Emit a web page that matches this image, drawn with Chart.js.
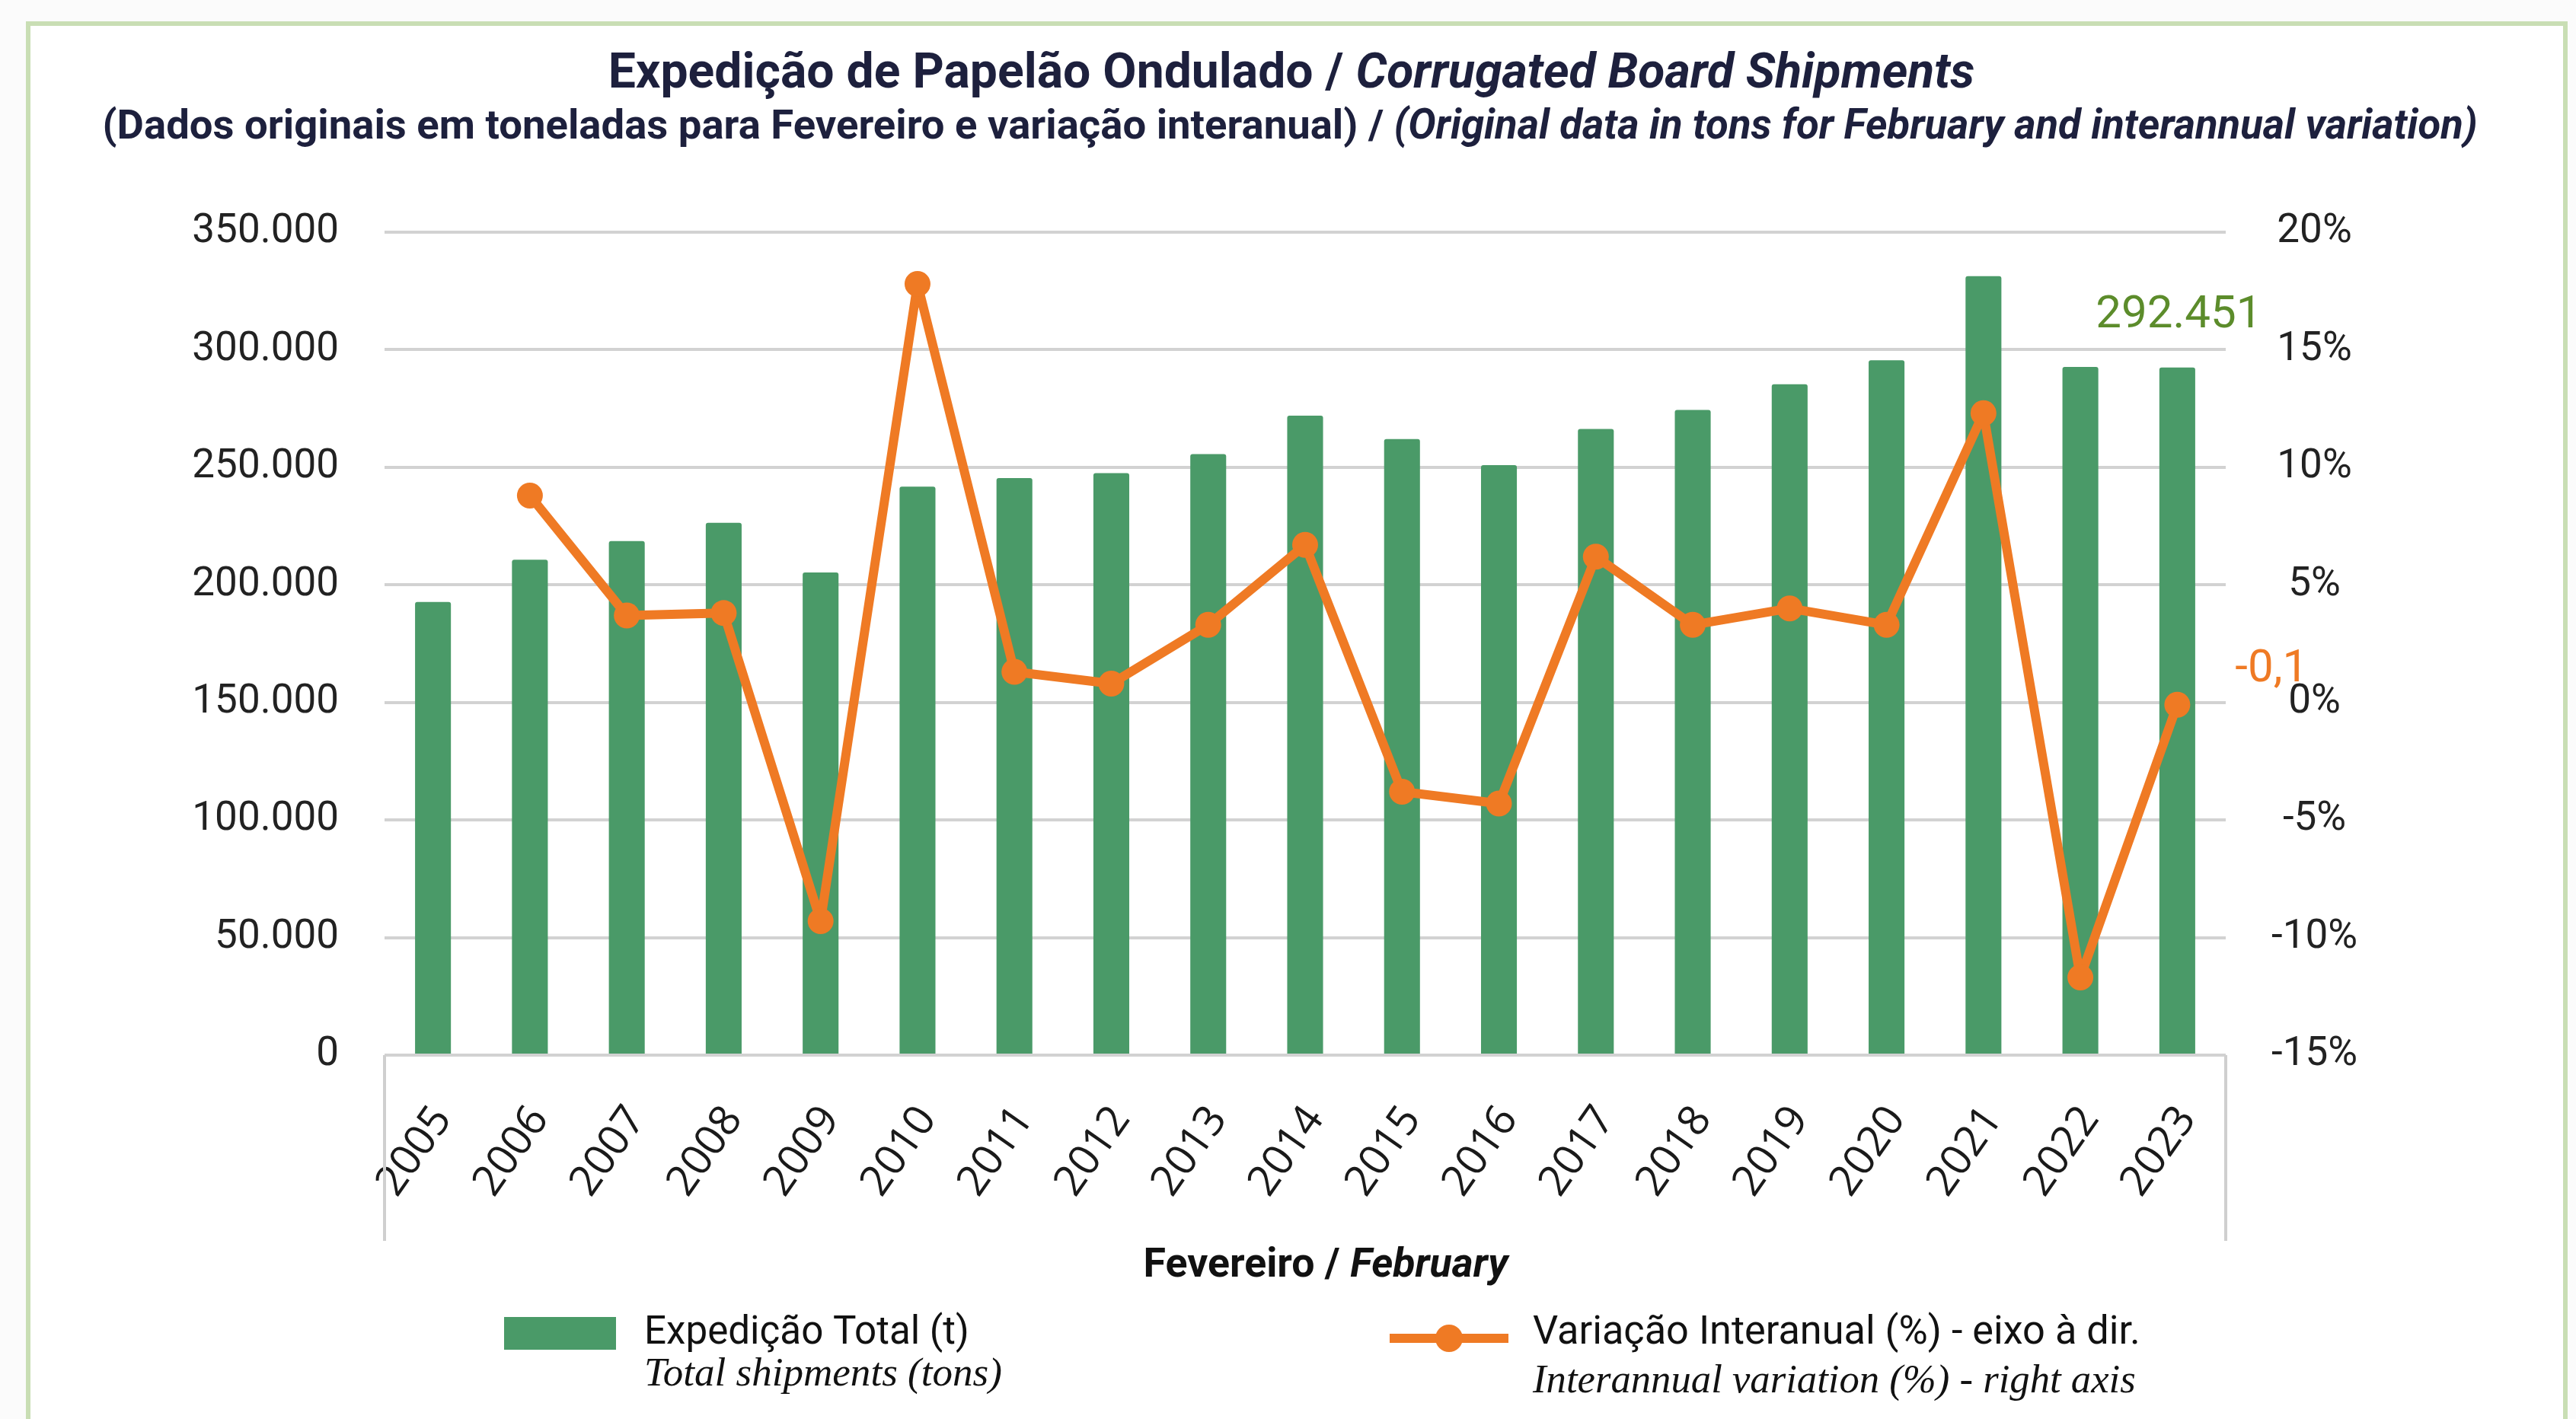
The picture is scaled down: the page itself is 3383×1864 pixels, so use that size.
<!DOCTYPE html>
<html><head><meta charset="utf-8">
<script src="https://cdn.jsdelivr.net/npm/chart.js@4/dist/chart.umd.min.js"></script>
<style>
html,body{margin:0;padding:0;background:#fff;}
#wrap{position:relative;width:3383px;height:1864px;overflow:hidden;background:#fbfbfb;}
#frame{position:absolute;left:34px;top:28px;width:3338px;height:1900px;border:6px solid #c9deb4;background:#fff;box-sizing:border-box;}
#cv{position:absolute;left:0;top:0;}
</style></head><body>
<div id="wrap"><div id="frame"></div><canvas id="cv" width="3383" height="1864"></canvas></div>
<script>
// ---- data ----
const years = ['2005','2006','2007','2008','2009','2010','2011','2012','2013','2014','2015','2016','2017','2018','2019','2020','2021','2022','2023'];
const shipments = [192700, 210700, 218600, 226400, 205300, 241800, 245400, 247500, 255600, 272000, 262000, 250900, 266300, 274400, 285300, 295500, 331300, 292700, 292451];
const variation = [null, 8.8, 3.7, 3.8, -9.3, 17.8, 1.3, 0.8, 3.3, 6.7, -3.8, -4.3, 6.2, 3.3, 4.0, 3.3, 12.3, -11.7, -0.1];
const leftTicks = {min: 0, max: 350000, step: 50000};
const rightTicks = {min: -15, max: 20, step: 5};
const titleLine1 = ['Expedição de Papelão Ondulado / ', 'Corrugated Board Shipments'];
const titleLine2 = ['(Dados originais em toneladas para Fevereiro e variação interanual) / ', '(Original data in tons for February and interannual variation)'];
const xTitle = ['Fevereiro / ', 'February'];
const legendBar = ['Expedição Total (t)', 'Total shipments (tons)'];
const legendLine = ['Variação Interanual (%) - eixo à dir.', 'Interannual variation (%) - right axis'];

const GREEN = '#4a9a68', ORANGE = '#ef7a24', NAVY = '#1d203d';

function fmtThousands(v){ return String(Math.round(v)).replace(/\B(?=(\d{3})+(?!\d))/g, '.'); }
function fmtPct(v){ return v.toFixed(1).replace('.', ','); }

function drawMixed(ctx, parts, cx, cy, targetW, fonts, color){
  let w = 0;
  parts.forEach((p,i)=>{ ctx.font = fonts[i](100); w += ctx.measureText(p).width; });
  const size = 100 * targetW / w;
  let total = 0; const ws = [];
  parts.forEach((p,i)=>{ ctx.font = fonts[i](size); const m = ctx.measureText(p).width; ws.push(m); total += m; });
  let x = cx - total/2;
  ctx.fillStyle = color; ctx.textAlign = 'left'; ctx.textBaseline = 'middle';
  parts.forEach((p,i)=>{ ctx.font = fonts[i](size); ctx.fillText(p, x, cy); x += ws[i]; });
}
function drawFit(ctx, text, x, cy, targetW, font, color){
  ctx.font = font(100);
  const size = 100 * targetW / ctx.measureText(text).width;
  ctx.font = font(size); ctx.fillStyle = color; ctx.textAlign='left'; ctx.textBaseline='middle';
  ctx.fillText(text, x, cy);
}

const decor = {
  id: 'decor',
  afterDatasetsDraw(chart){
    const ctx = chart.ctx; const last = years.length - 1;
    const bar = chart.getDatasetMeta(0).data[last];
    ctx.save();
    ctx.font = '60px Roboto'; ctx.fillStyle = '#5c8c2b'; ctx.textAlign = 'center'; ctx.textBaseline = 'middle';
    ctx.fillText(fmtThousands(shipments[last]), bar.x + 2, bar.y - 68);
    const pt = chart.getDatasetMeta(1).data[last];
    ctx.fillStyle = ORANGE; ctx.textAlign = 'left';
    ctx.fillText(fmtPct(variation[last]), pt.x + 76, pt.y - 46);
    ctx.restore();
  },
  afterDraw(chart){
    const ctx = chart.ctx; const a = chart.chartArea;
    ctx.save();
    ctx.strokeStyle = '#cfcfcf'; ctx.lineWidth = 4;
    [a.left, a.right].forEach(x=>{ ctx.beginPath(); ctx.moveTo(x, a.bottom); ctx.lineTo(x, a.bottom + 244); ctx.stroke(); });
    const b = s=>`bold ${s}px Roboto`, bi = s=>`italic bold ${s}px Roboto`;
    drawMixed(ctx, titleLine1, 1696, 99, 1795, [b, bi], NAVY);
    drawMixed(ctx, titleLine2, 1694, 168, 3119, [b, bi], NAVY);
    drawMixed(ctx, xTitle, 1741, 1664, 479, [b, bi], '#111');
    ctx.fillStyle = GREEN; ctx.fillRect(662, 1730, 147, 43);
    drawFit(ctx, legendBar[0], 846, 1752, 427, s=>`${s}px Roboto`, '#111');
    drawFit(ctx, legendBar[1], 846, 1806, 470, s=>`italic ${s}px "Liberation Serif"`, '#111');
    ctx.strokeStyle = ORANGE; ctx.lineWidth = 12;
    ctx.beginPath(); ctx.moveTo(1825, 1758); ctx.lineTo(1981, 1758); ctx.stroke();
    ctx.fillStyle = ORANGE; ctx.beginPath(); ctx.arc(1903, 1758, 18, 0, Math.PI*2); ctx.fill();
    drawFit(ctx, legendLine[0], 2013, 1752, 798, s=>`${s}px Roboto`, '#111');
    drawFit(ctx, legendLine[1], 2013, 1815, 792, s=>`italic ${s}px "Liberation Serif"`, '#111');
    ctx.restore();
  }
};

function build(){
  new Chart(document.getElementById('cv'), {
    data: {
      labels: years,
      datasets: [
        {type:'bar', label: legendBar[0], data: shipments, backgroundColor: GREEN, yAxisID:'y',
         barPercentage: 0.37, categoryPercentage: 1.0, borderRadius: {topLeft:3, topRight:3}, borderSkipped:'bottom', order: 2},
        {type:'line', label: legendLine[0], data: variation, yAxisID:'y1', borderColor: ORANGE, backgroundColor: ORANGE,
         borderWidth: 12, borderJoinStyle:'round', borderCapStyle:'round', pointRadius: 17, pointBackgroundColor: ORANGE, pointBorderWidth: 0,
         tension: 0, spanGaps: false, order: 1}
      ]
    },
    options: {
      responsive: false, devicePixelRatio: 1, animation: false,
      layout: {padding: {left: 105, right: 220, top: 305, bottom: 0}},
      plugins: {legend: {display:false}, title: {display:false}, tooltip: {enabled:false}},
      scales: {
        x: {offset: true, grid: {display:false}, border: {display:false},
            ticks: {autoSkip:false, minRotation:55, maxRotation:55, padding: 47, labelOffset: 13, color:'#1a1a1a', font:{family:'"Open Sans"', size:56}},
            afterFit(s){ s.height = 478; }},
        y: {position:'left', min: leftTicks.min, max: leftTicks.max, border:{display:false},
            grid: {color:'#d2d2d2', lineWidth:4, drawTicks:false},
            ticks: {stepSize: leftTicks.step, padding: 60, color:'#222', font:{family:'Roboto', size:53}, callback: v=>fmtThousands(v)},
            afterFit(s){ s.width = 400; }},
        y1: {position:'right', min: rightTicks.min, max: rightTicks.max, border:{display:false},
            grid: {drawOnChartArea:false, drawTicks:false},
            ticks: {stepSize: rightTicks.step, padding: 60, crossAlign:'center', color:'#222', font:{family:'Roboto', size:53}, callback: v=>v+'%'},
            afterFit(s){ s.width = 240; }}
      }
    },
    plugins: [decor]
  });
}
const fl = ['bold 50px Roboto','italic bold 50px Roboto','50px Roboto','italic 50px "Liberation Serif"','56px "Open Sans"'].map(f=>document.fonts.load(f).catch(()=>{}));
Promise.race([Promise.all(fl), new Promise(r=>setTimeout(r,1500))]).then(build);
</script>
</body></html>
